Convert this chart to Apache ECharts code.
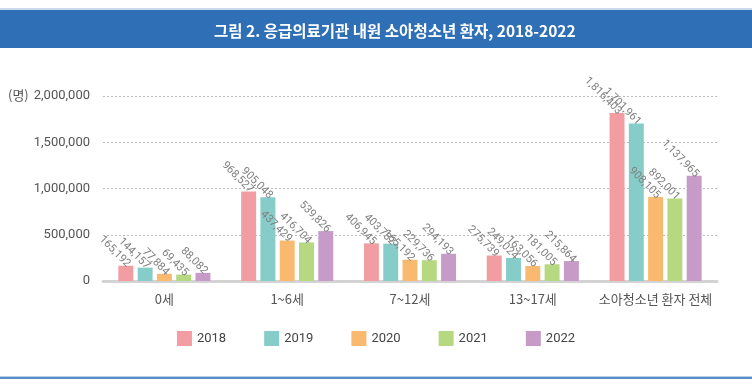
<!DOCTYPE html>
<html><head><meta charset="utf-8">
<script src="https://cdn.jsdelivr.net/npm/echarts@6/dist/echarts.min.js"></script>
<style>html,body{margin:0;padding:0;background:#fff}#c{width:752px;height:388px}</style>
</head><body><div id="c"></div>
<script>
const categories = ['0세', '1~6세', '7~12세', '13~17세', '소아청소년 환자 전체'];
const years = ['2018', '2019', '2020', '2021', '2022'];
const v2018 = [165192, 968527, 406945, 275739, 1816403];
const v2019 = [144157, 905048, 403732, 249024, 1701961];
const v2020 = [77884, 437429, 229736, 163056, 908105];
const v2021 = [69435, 416704, 224857, 181005, 892001];
const v2022 = [88082, 539826, 294193, 215864, 1137965];
// label texts as printed in the figure
const t2018 = ['165,192', '968,527', '406,945', '275,739', '1,816,403'];
const t2019 = ['144,157', '905,048', '403,732', '249,024', '1,701,961'];
const t2020 = ['77,884', '437,429', '165,192', '163,056', '908,105'];
const t2021 = ['69,435', '416,704', '229,736', '181,005', '892,001'];
const t2022 = ['88,082', '539,826', '294,193', '215,864', '1,137,965'];
const yTicks = ['0', '500,000', '1,000,000', '1,500,000', '2,000,000'];
const colors = ['#f29da1', '#86cdc9', '#f9b96e', '#b6d880', '#c79bc8'];

const values = [v2018, v2019, v2020, v2021, v2022];
const texts = [t2018, t2019, t2020, t2021, t2022];
const font = '"Noto Sans CJK KR", "Noto Sans", sans-serif';

const chart = echarts.init(document.getElementById('c'));
chart.setOption({
  animation: false,
  textStyle: { fontFamily: font },
  graphic: [
    { type: 'rect', shape: { x: 0, y: 8, width: 752, height: 2 }, style: { fill: '#c9d9ee' }, silent: true },
    { type: 'rect', shape: { x: 0, y: 10, width: 752, height: 38 }, style: { fill: '#2f6fb6' }, silent: true },
    { type: 'rect', shape: { x: 0, y: 376, width: 752, height: 1 }, style: { fill: '#b8cfea' }, silent: true },
    { type: 'rect', shape: { x: 0, y: 377, width: 752, height: 2 }, style: { fill: '#5b8fca' }, silent: true },
    { type: 'text', left: 8, top: 89, style: { text: '(명)', fill: '#555', font: '13px ' + font } }
  ],
  title: {
    text: '그림 2. 응급의료기관 내원 소아청소년 환자, 2018-2022',
    left: 209, top: 18,
    textStyle: { color: '#fff', fontSize: 15.5, fontWeight: 'bold', fontFamily: font }
  },
  legend: {
    data: years, left: 'center', top: 326,
    itemWidth: 15, itemHeight: 15, itemGap: 38,
    icon: 'rect',
    textStyle: { color: '#444', fontSize: 13, fontFamily: 'Roboto, sans-serif' }
  },
  grid: { left: 103, right: 35, top: 96, bottom: 107 },
  xAxis: {
    type: 'category', data: categories,
    axisLine: { lineStyle: { color: '#d3d3d3', width: 3 } },
    axisTick: { show: false },
    axisLabel: { interval: 0, color: '#555', fontSize: 13, margin: 12, fontFamily: font }
  },
  yAxis: {
    type: 'value', min: 0, max: 2000000, interval: 500000,
    axisLine: { show: false }, axisTick: { show: false },
    splitLine: { lineStyle: { color: '#bbb', type: [2, 2] } },
    axisLabel: {
      color: '#555', fontSize: 13, margin: 13, fontFamily: 'Roboto, sans-serif',
      formatter: (v) => yTicks[Math.round(v / 500000)]
    }
  },
  series: years.map((y, i) => ({
    name: y, type: 'bar',
    data: values[i],
    itemStyle: { color: colors[i] },
    barGap: '29%', barCategoryGap: '25%',
    label: {
      show: true, position: 'top', rotate: -45, align: 'right', verticalAlign: 'middle',
      distance: 3, offset: [4, 0],
      color: '#808080', fontSize: 11, fontFamily: 'Roboto, sans-serif',
      formatter: (p) => texts[i][p.dataIndex]
    }
  }))
});
</script></body></html>
